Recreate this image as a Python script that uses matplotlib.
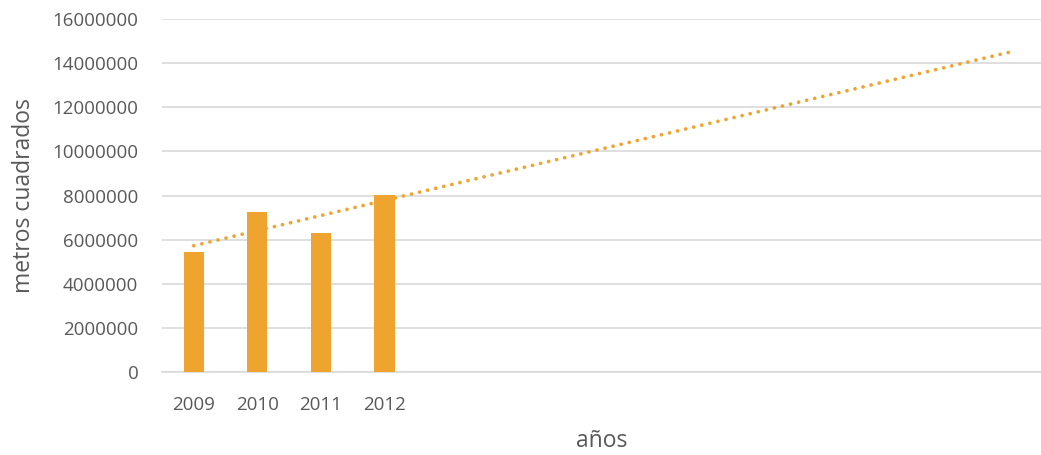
import numpy as np
import matplotlib
matplotlib.use("Agg")
import matplotlib.pyplot as plt

years = ["2009", "2010", "2011", "2012"]
area = [5440000, 7250000, 6310000, 8030000]
forecast_periods = 9.9   # linear trend extended forward

bar_color = "#F0A430"
text_color = "#595959"
grid_color = "#D9D9D9"

plt.rcParams["font.family"] = ["Open Sans", "DejaVu Sans"]

fig = plt.figure(figsize=(10.41, 4.55), dpi=100)
ax = fig.add_axes([0.1556, 0.1818, 0.8444, 0.7764])

x = np.arange(len(years))
ax.bar(x, area, width=0.32, color=bar_color, zorder=3)

# linear trendline like excel
slope, inter = np.polyfit(x, area, 1)
xt = np.array([0, len(years) - 1 + forecast_periods])
ax.plot(xt, slope * xt + inter, color=bar_color, lw=2.7,
        linestyle=(0, (0.01, 2.2)), dash_capstyle="round", zorder=4)

ax.set_xlim(-0.5, 13.33)
ax.set_ylim(0, 16000000)
ax.set_yticks(np.arange(0, 16000001, 2000000))
ax.set_yticklabels([str(v) for v in range(0, 16000001, 2000000)])
ax.set_xticks(x)
ax.set_xticklabels(years)

ax.grid(axis="y", color=grid_color, lw=1.2, zorder=0)
for s in ["top", "right", "left"]:
    ax.spines[s].set_visible(False)
ax.spines["bottom"].set_color(grid_color)
ax.spines["bottom"].set_linewidth(1.2)
ax.tick_params(length=0, colors=text_color, labelsize=13.5)
ax.tick_params(axis="y", pad=17)
ax.tick_params(axis="x", pad=17)

ax.set_ylabel("metros cuadrados", color=text_color, fontsize=16.5)
ax.yaxis.set_label_coords(-0.143, 0.5)
ax.set_xlabel("años", color=text_color, fontsize=16.5)
ax.xaxis.set_label_coords(0.5, -0.16)

fig.savefig("out.png", dpi=100)
